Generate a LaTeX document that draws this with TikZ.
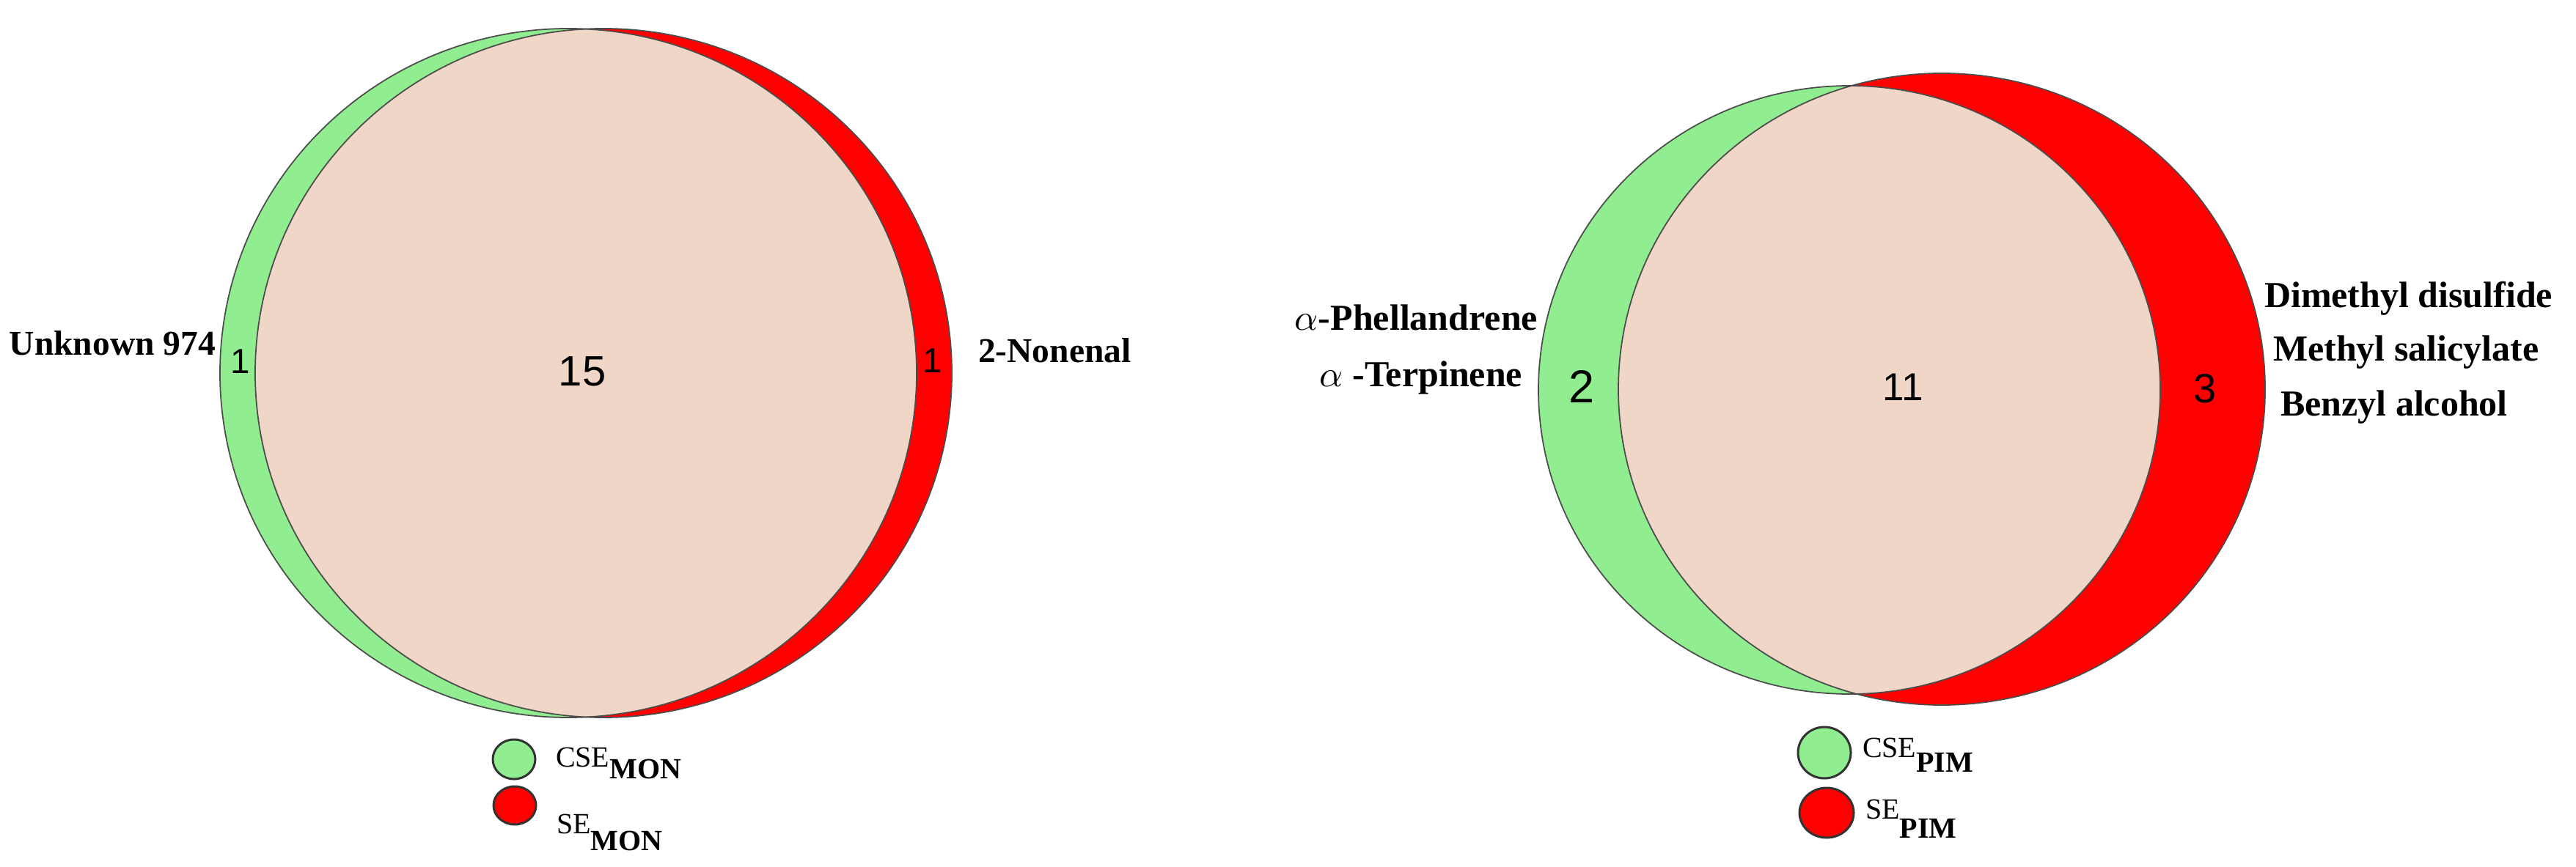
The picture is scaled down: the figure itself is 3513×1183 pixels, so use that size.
\documentclass[tikz,border=0pt]{standalone}
\usepackage{fontspec}
\setmainfont{Liberation Serif}
\setsansfont{Liberation Sans}
\definecolor{vgreen}{RGB}{144,238,144}
\definecolor{vred}{RGB}{255,0,0}
\definecolor{vpeach}{RGB}{240,214,198}
\tikzset{
  vline/.style={draw=black!70, line width=0.35pt},
  legcirc/.style={draw=black!80, line width=0.6pt},
  num/.style={inner sep=0pt, text=black},
  lab/.style={inner sep=0pt, font=\bfseries\fontsize{10}{12}\selectfont},
  labs/.style={inner sep=0pt, font=\bfseries\fontsize{9.5}{12}\selectfont},
  leglab/.style={inner sep=0pt, anchor=base west, font=\fontsize{8}{10}\selectfont}
}
\begin{document}
\begin{tikzpicture}[x=0.2pt,y=-0.2pt]
\useasboundingbox (0,0) rectangle (3513,1183);
\fill[white] (0,0) rectangle (3513,1183);

% ---------- left Venn (MON) ----------
\fill[vgreen] (775,509) ellipse [x radius=95pt, y radius=94pt];
\fill[vred] (823,509) ellipse [x radius=95pt, y radius=94pt];
\begin{scope}
  \clip (775,509) ellipse [x radius=95pt, y radius=94pt];
  \fill[vpeach] (823,509) ellipse [x radius=95pt, y radius=94pt];
\end{scope}
\draw[vline] (775,509) ellipse [x radius=95pt, y radius=94pt];
\draw[vline] (823,509) ellipse [x radius=95pt, y radius=94pt];

\node[num, font=\sffamily\fontsize{11.6}{14}\selectfont] (n15) at (794,507) {15};
\node[num, font=\sffamily\fontsize{9.5}{12}\selectfont] (nl1) at (328,493) {1};
\node[num, font=\sffamily\fontsize{9.5}{12}\selectfont] (nr1) at (1272,492) {1};
\node[labs, anchor=base east] (unk) at (295,485) {Unknown 974};
\node[labs, anchor=base west] (non) at (1333,495) {2-Nonenal};

% legend MON
\draw[legcirc, fill=vgreen] (701,1036) ellipse [x radius=5.8pt, y radius=5.4pt];
\draw[legcirc, fill=vred] (702,1099) ellipse [x radius=5.8pt, y radius=5.2pt];
\node[leglab] (lcsemon) at (757,1046) {CSE\raisebox{-3.2pt}{\bfseries MON}};
\node[leglab] (lsemon) at (758,1137) {SE\raisebox{-4.6pt}{\bfseries MON}};

% ---------- right Venn (PIM) ----------
\fill[vgreen] (2522,532) ellipse [x radius=84.8pt, y radius=83pt];
\fill[vred] (2648,531) ellipse [x radius=88.2pt, y radius=86.2pt];
\begin{scope}
  \clip (2522,532) ellipse [x radius=84.8pt, y radius=83pt];
  \fill[vpeach] (2648,531) ellipse [x radius=88.2pt, y radius=86.2pt];
\end{scope}
\draw[vline] (2522,532) ellipse [x radius=84.8pt, y radius=83pt];
\draw[vline] (2648,531) ellipse [x radius=88.2pt, y radius=86.2pt];

\node[num, font=\sffamily\fontsize{12.6}{15}\selectfont] (n2) at (2157,528) {2};
\node[num, font=\sffamily\fontsize{10.6}{13}\selectfont] (n11) at (2595,528) {11};
\node[num, font=\sffamily\fontsize{11.2}{14}\selectfont] (n3) at (3007,530) {3};

\node[lab, anchor=base east] (phel) at (2098,450) {$\alpha$-Phellandrene};
\node[lab, anchor=base east] (terp) at (2077,527) {$\alpha$ -Terpinene};
\node[lab, anchor=base west] (dmds) at (3087,420) {Dimethyl disulfide};
\node[lab, anchor=base west] (msal) at (3099,493) {Methyl salicylate};
\node[lab, anchor=base west] (benz) at (3109,567) {Benzyl alcohol};

% legend PIM
\draw[legcirc, fill=vgreen] (2488,1027) ellipse [x radius=7.2pt, y radius=7pt];
\draw[legcirc, fill=vred] (2491,1109) ellipse [x radius=7.4pt, y radius=6.8pt];
\node[leglab] (lcsepim) at (2539,1033) {CSE\raisebox{-4pt}{\bfseries PIM}};
\node[leglab] (lsepim) at (2543,1117) {SE\raisebox{-5.2pt}{\bfseries PIM}};
\end{tikzpicture}
\end{document}
